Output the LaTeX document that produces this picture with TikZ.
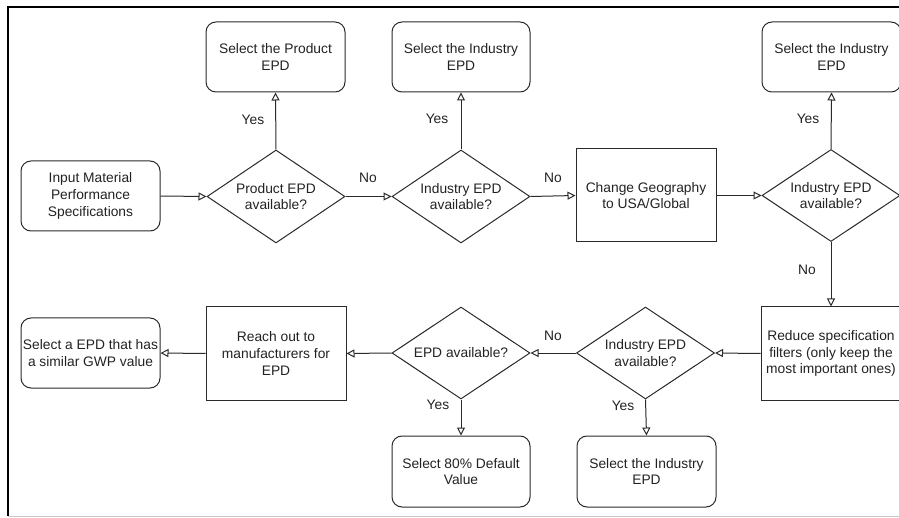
\documentclass[tikz,border=0pt]{standalone}
\usepackage{fontspec}
\setmainfont{Liberation Sans}
\usetikzlibrary{shapes.geometric,arrows.meta}
\definecolor{ink}{HTML}{222222}
\definecolor{edge}{HTML}{2A2A2A}
\tikzset{
  every node/.style={font=\fontsize{13.8}{16.6}\selectfont, text=ink, align=center},
  rbox/.style={draw=edge, line width=1pt, rounded corners=10pt, inner sep=0pt},
  sbox/.style={draw=edge, line width=1pt, inner sep=0pt},
  dec/.style={draw=edge, line width=1pt, diamond, inner sep=0pt, aspect=1.48},
  arr/.style={draw=edge, line width=1pt, -{Triangle[open,length=8pt,width=8pt]}},
  lbl/.style={inner sep=0pt}
}
\begin{document}
\begin{tikzpicture}[x=1pt,y=-1pt]
\useasboundingbox (0,0) rectangle (899,518);
% frame
\draw[black, line width=2pt] (8,516) -- (8,7) -- (902,7);
\draw[black!22, line width=1.5pt] (8,516.5) -- (902,516.5);
% nodes
\node[rbox, minimum width=139pt, minimum height=70pt] (in) at (90.5,196) {Input Material\\Performance\\Specifications};
\node[dec, minimum width=138pt, minimum height=93pt] (d1) at (276,196.5) {Product EPD\\available?};
\node[rbox, minimum width=139pt, minimum height=70pt] (p1) at (275.5,57) {Select the Product\\EPD};
\node[dec, minimum width=138pt, minimum height=93pt] (d2) at (461,196.5) {Industry EPD\\available?};
\node[rbox, minimum width=138pt, minimum height=70pt] (i2) at (461,57) {Select the Industry\\EPD};
\node[sbox, minimum width=140pt, minimum height=93pt] (geo) at (646,195.5) {Change Geography\\to USA/Global};
\node[dec, minimum width=138pt, minimum height=92pt] (d3) at (831,195.5) {Industry EPD\\available?};
\node[rbox, minimum width=139pt, minimum height=70pt] (i3) at (831.5,57) {Select the Industry\\EPD};
\node[sbox, minimum width=140pt, minimum height=93pt] (red) at (831,353.5) {Reduce specification\\filters (only keep the\\most important ones)};
\node[dec, minimum width=138pt, minimum height=92pt] (d4) at (645.5,353) {Industry EPD\\available?};
\node[rbox, minimum width=139pt, minimum height=71pt] (i4) at (646.5,471.5) {Select the Industry\\EPD};
\node[dec, minimum width=138pt, minimum height=92pt] (d5) at (461,353) {EPD available?};
\node[rbox, minimum width=138pt, minimum height=71pt] (s80) at (461,471.5) {Select 80\% Default\\Value};
\node[sbox, minimum width=140pt, minimum height=93pt] (reach) at (276,353.5) {Reach out to\\manufacturers for\\EPD};
\node[rbox, minimum width=139pt, minimum height=70pt] (gwp) at (90.5,353) {Select a EPD that has\\a similar GWP value};
% connectors
\draw[arr] (in.east) -- (d1.west);
\draw[arr] (d1.north) -- (p1.south);
\draw[arr] (d1.east) -- (d2.west);
\draw[arr] (d2.north) -- (i2.south);
\draw[arr] (d2.east) -- (geo.west);
\draw[arr] (geo.east) -- (d3.west);
\draw[arr] (d3.north) -- (i3.south);
\draw[arr] (d3.south) -- (red.north);
\draw[arr] (red.west) -- (d4.east);
\draw[arr] (d4.south) -- (i4.north);
\draw[arr] (d4.west) -- (d5.east);
\draw[arr] (d5.south) -- (s80.north);
\draw[arr] (d5.west) -- (reach.east);
\draw[arr] (reach.west) -- (gwp.east);
% labels
\node[lbl] (y1) at (253,120) {Yes};
\node[lbl] (n1) at (368,178) {No};
\node[lbl] (y2) at (437,119) {Yes};
\node[lbl] (n2) at (553,178) {No};
\node[lbl] (y3) at (808,119) {Yes};
\node[lbl] (n3) at (807,270) {No};
\node[lbl] (y4) at (623,406) {Yes};
\node[lbl] (n4) at (553,336) {No};
\node[lbl] (y5) at (438,405) {Yes};
\end{tikzpicture}
\end{document}
